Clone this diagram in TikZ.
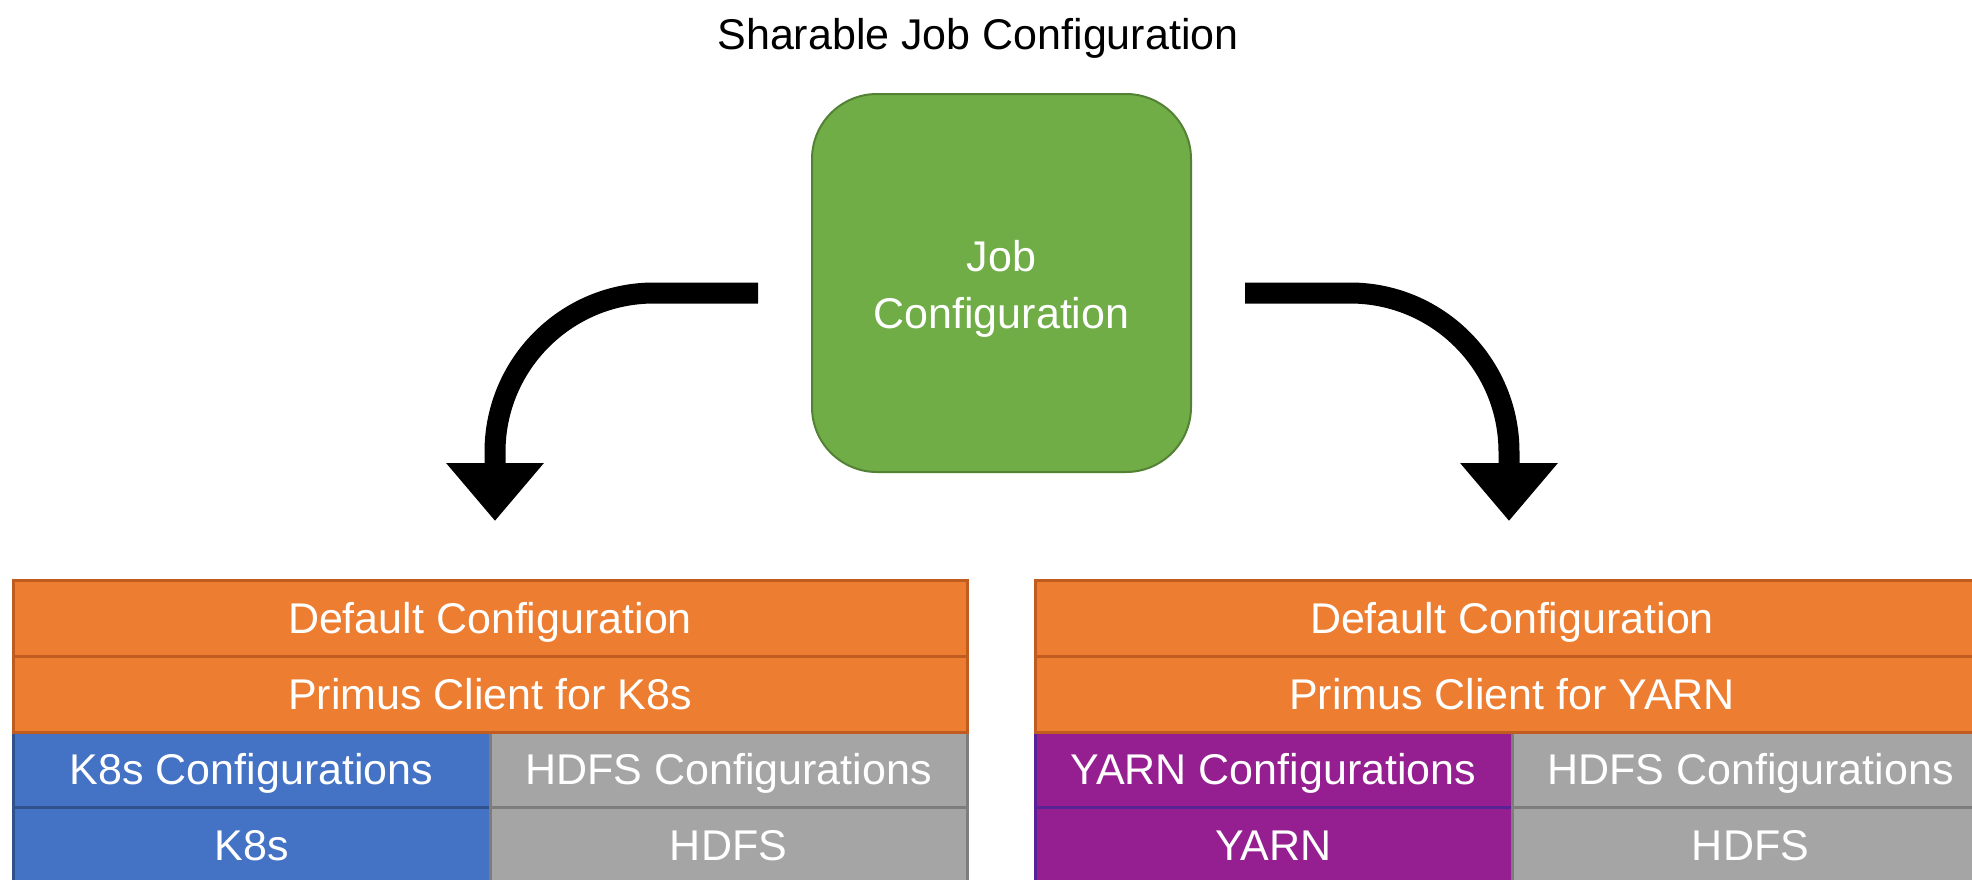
\documentclass[tikz,border=0pt]{standalone}
\usepackage{fontspec}
\setmainfont{Liberation Sans}
\usetikzlibrary{arrows.meta}
\definecolor{jgreen}{RGB}{112,173,71}
\definecolor{jgreenb}{RGB}{84,130,53}
\definecolor{corange}{RGB}{237,125,49}
\definecolor{corangeb}{RGB}{192,92,32}
\definecolor{cblue}{RGB}{68,114,196}
\definecolor{cblueb}{RGB}{47,82,143}
\definecolor{cgray}{RGB}{165,165,165}
\definecolor{cgrayb}{RGB}{125,125,125}
\definecolor{cpurple}{RGB}{149,30,145}
\definecolor{cpurpleb}{RGB}{88,33,150}
\begin{document}
\begin{tikzpicture}[x=0.5pt,y=-0.5pt,
  every node/.style={font=\fontsize{21.5}{28.5}\selectfont, inner sep=0pt, outer sep=0pt},
  capcentred/.style={text height=15.4pt, text depth=0pt},
  celltext/.style={capcentred, text=white, line width=1.5pt, minimum height=38pt},
  widecell/.style={celltext, draw=corangeb, fill=corange, minimum width=477pt},
  halfcell/.style={celltext, minimum width=238.5pt},
  bluecell/.style={halfcell, draw=cblueb, fill=cblue},
  graycell/.style={halfcell, draw=cgrayb, fill=cgray},
  purplecell/.style={halfcell, draw=cpurpleb, fill=cpurple},
  jobbox/.style={draw=jgreenb, fill=jgreen, line width=1pt, rounded corners=32.5pt,
    minimum width=189.5pt, minimum height=189pt, text=white, align=center},
  bigarrow/.style={line width=10.5pt, rounded corners=79.5pt, -{Triangle[width=47pt,length=29pt]}}
]
\useasboundingbox (0,0) rectangle (1972,879);
\clip (0,0) rectangle (1972,879);
\fill[white] (0,0) rectangle (1972,879);

\node[capcentred] (title) at (978,34) {Sharable Job Configuration};
\node[jobbox] (job) at (1001.5,283) {};
\node[text=white, align=center] (jobtext) at (1001.5,289) {Job\\Configuration};

% left stack
\node[bluecell] (l3a) at (251.5,769.5) {K8s Configurations};
\node[graycell] (l3b) at (728.5,769.5) {HDFS Configurations};
\node[bluecell] (l4a) at (251.5,845) {K8s};
\node[graycell] (l4b) at (728.5,845) {HDFS};
\node[widecell] (l1) at (490,618) {Default Configuration};
\node[widecell] (l2) at (490,694) {Primus Client for K8s};

% right stack
\node[purplecell] (r3a) at (1273.5,769.5) {YARN Configurations};
\node[graycell] (r3b) at (1750.5,769.5) {HDFS Configurations};
\node[purplecell] (r4a) at (1273.5,845) {YARN};
\node[graycell] (r4b) at (1750.5,845) {HDFS};
\node[widecell] (r1) at (1512,618) {Default Configuration};
\node[widecell] (r2) at (1512,694) {Primus Client for YARN};

% arrows
\coordinate (aLs) at (758,293);
\coordinate (aLe) at (495,521);
\coordinate (aRs) at (1245,293);
\coordinate (aRe) at (1509,521);
\draw[bigarrow] (aLs) -| (aLe);
\draw[bigarrow] (aRs) -| (aRe);
\end{tikzpicture}
\end{document}
